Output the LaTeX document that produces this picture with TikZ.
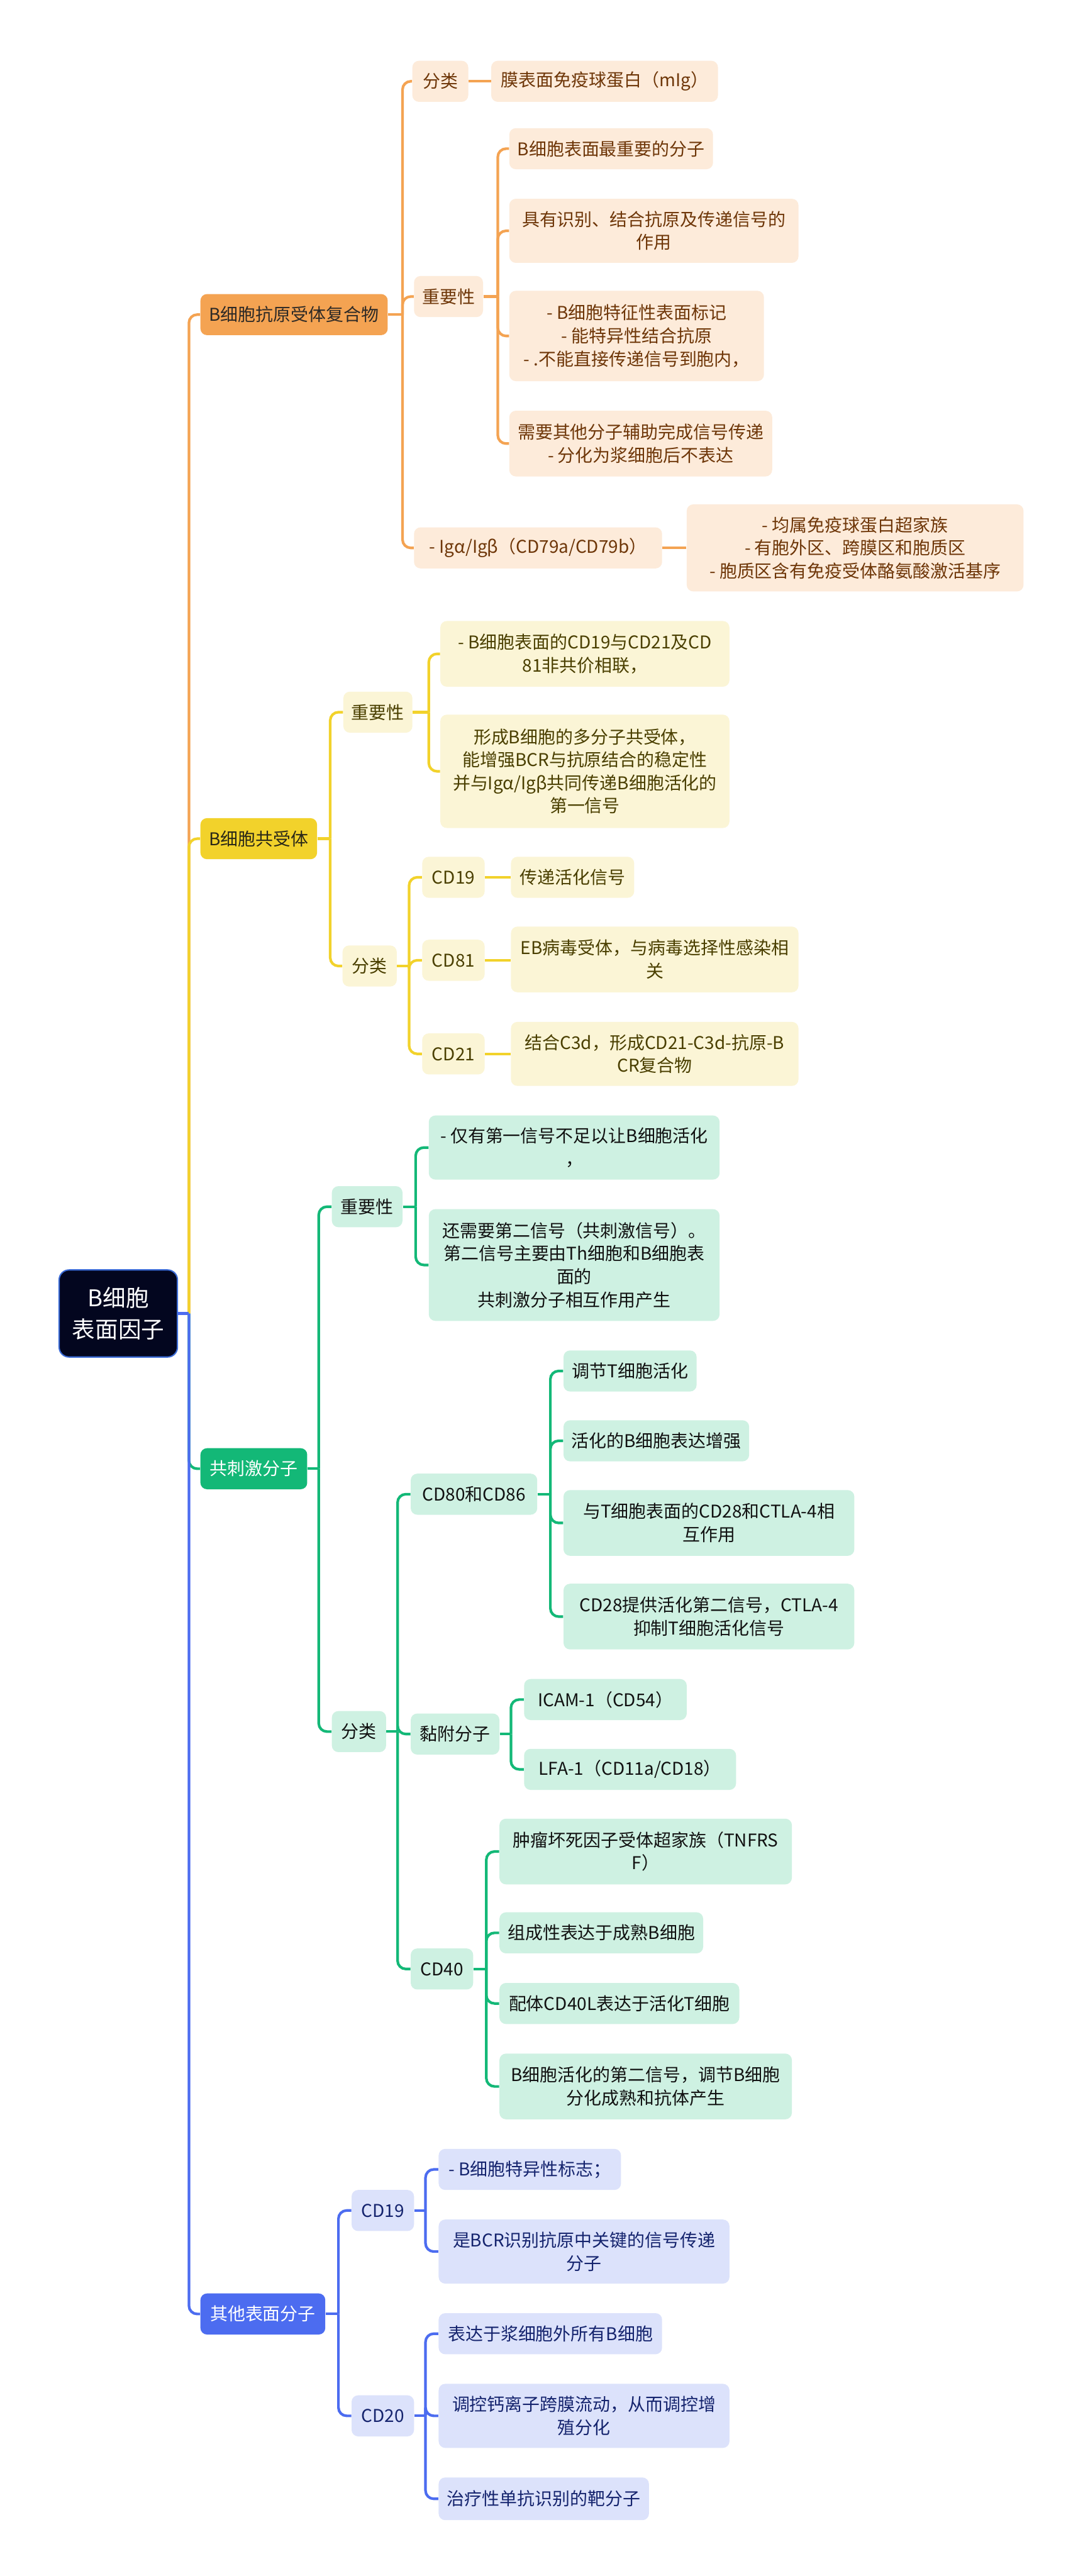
\documentclass[tikz,border=0pt]{standalone}
\usepackage{fontspec}
\setmainfont{Noto Sans CJK SC}
\usetikzlibrary{calc}
\definecolor{rootfill}{HTML}{03061F}
\definecolor{rootdraw}{HTML}{3B6BD6}
\definecolor{oL}{HTML}{F4A352}
\definecolor{oS}{HTML}{FDEBDA}
\definecolor{oT}{HTML}{6E3608}
\definecolor{oLT}{HTML}{2E2A26}
\definecolor{yL}{HTML}{F2D22B}
\definecolor{yS}{HTML}{FBF5D6}
\definecolor{yT}{HTML}{4A3F00}
\definecolor{yLT}{HTML}{2A2818}
\definecolor{gL}{HTML}{13B877}
\definecolor{gS}{HTML}{CEF1E2}
\definecolor{gT}{HTML}{111111}
\definecolor{bL}{HTML}{4C6CF0}
\definecolor{bS}{HTML}{DCE2FB}
\definecolor{bT}{HTML}{15246E}
\tikzset{
  box/.style={rounded corners=4pt, inner sep=0pt, align=center, font=\fontsize{10.7}{14}\selectfont},
  rootbox/.style={rounded corners=6pt, inner sep=0pt, align=center, fill=rootfill, draw=rootdraw, line width=0.8pt, text=white, font=\fontsize{14}{19}\selectfont},
  oone/.style={box, fill=oL, text=oLT},
  osub/.style={box, fill=oS, text=oT},
  yone/.style={box, fill=yL, text=yLT},
  ysub/.style={box, fill=yS, text=yT},
  gone/.style={box, fill=gL, text=white},
  gsub/.style={box, fill=gS, text=gT},
  bone/.style={box, fill=bL, text=white},
  bsub/.style={box, fill=bS, text=bT},
  link/.style={line width=1.6pt, rounded corners=5pt},
  olink/.style={link, draw=oL},
  ylink/.style={link, draw=yL},
  glink/.style={link, draw=gL},
  blink/.style={link, draw=bL}
}
\newcommand\bx[6]{\node[#1, minimum width=#4, minimum height=#5] (#2) at (#3) {#6};}
\begin{document}
\begin{tikzpicture}[x=1pt,y=-1pt]
\useasboundingbox (0,0) rectangle (659,1568);
\fill[white] (0,0) rectangle (659,1568);

% root
\bx{rootbox}{R}{72,799.5}{72}{53}{B细胞\\表面因子}

% ---------- orange branch
\bx{oone}{O1}{179,191.5}{114}{25}{B细胞抗原受体复合物}
\bx{osub}{O2a}{268,49.5}{34}{25}{分类}
\bx{osub}{O3a}{368,49.5}{138}{25}{膜表面免疫球蛋白（mIg）}
\bx{osub}{O2b}{273,180.5}{42}{25}{重要性}
\bx{osub}{O3b1}{372,90.5}{124}{25}{B细胞表面最重要的分子}
\bx{osub}{O3b2}{398,140.5}{176}{39}{具有识别、结合抗原及传递信号的\\作用}
\bx{osub}{O3b3}{387.5,204.5}{155}{55}{- B细胞特征性表面标记\\- 能特异性结合抗原\\- .不能直接传递信号到胞内，}
\bx{osub}{O3b4}{390,270}{160}{40}{需要其他分子辅助完成信号传递\\- 分化为浆细胞后不表达}
\bx{osub}{O2c}{327.5,333.5}{151}{25}{- Igα/Igβ（CD79a/CD79b）}
\bx{osub}{O3c}{520.5,333.5}{205}{53}{- 均属免疫球蛋白超家族\\- 有胞外区、跨膜区和胞质区\\- 胞质区含有免疫受体酪氨酸激活基序}

% ---------- yellow branch
\bx{yone}{Y1}{157.5,510.5}{71}{25}{B细胞共受体}
\bx{ysub}{Y2a}{230,433.5}{42}{25}{重要性}
\bx{ysub}{Y3a1}{356,398}{176}{40}{- B细胞表面的CD19与CD21及CD\\81非共价相联，}
\bx{ysub}{Y3a2}{356,469.5}{176}{69}{形成B细胞的多分子共受体，\\能增强BCR与抗原结合的稳定性\\并与Igα/Igβ共同传递B细胞活化的\\第一信号}
\bx{ysub}{Y2b}{225,588}{33}{25}{分类}
\bx{ysub}{Y3b1}{276,534}{38}{25}{CD19}
\bx{ysub}{Y4b1}{348.5,534}{75}{25}{传递活化信号}
\bx{ysub}{Y3b2}{276,584.5}{38}{25}{CD81}
\bx{ysub}{Y4b2}{398.5,584}{175}{40}{EB病毒受体，与病毒选择性感染相\\关}
\bx{ysub}{Y3b3}{276,641.5}{38}{25}{CD21}
\bx{ysub}{Y4b3}{398.5,641.5}{175}{39}{结合C3d，形成CD21-C3d-抗原-B\\CR复合物}

% ---------- green branch
\bx{gone}{G1}{154.5,894}{65}{25}{共刺激分子}
\bx{gsub}{G2a}{223.5,734.5}{43}{25}{重要性}
\bx{gsub}{G3a1}{349.5,698.5}{177}{39}{- 仅有第一信号不足以让B细胞活化\\，}
\bx{gsub}{G3a2}{349.5,770}{177}{68}{还需要第二信号（共刺激信号）。\\第二信号主要由Th细胞和B细胞表\\面的\\共刺激分子相互作用产生}
\bx{gsub}{G2b}{218.5,1054}{33}{25}{分类}
\bx{gsub}{G3b1}{288.5,909.5}{77}{25}{CD80和CD86}
\bx{gsub}{G4b1a}{383.5,834.5}{81}{25}{调节T细胞活化}
\bx{gsub}{G4b1b}{399.5,877}{113}{25}{活化的B细胞表达增强}
\bx{gsub}{G4b1c}{431.5,927}{177}{40}{与T细胞表面的CD28和CTLA-4相\\互作用}
\bx{gsub}{G4b1d}{431.5,984}{177}{40}{CD28提供活化第二信号，CTLA-4\\抑制T细胞活化信号}
\bx{gsub}{G3b2}{277,1055.5}{54}{25}{黏附分子}
\bx{gsub}{G4b2a}{368.5,1034.5}{99}{25}{ICAM-1（CD54）}
\bx{gsub}{G4b2b}{383.5,1077}{129}{25}{LFA-1（CD11a/CD18）}
\bx{gsub}{G3b3}{269,1198.5}{38}{25}{CD40}
\bx{gsub}{G4b3a}{393,1127}{178}{40}{肿瘤坏死因子受体超家族（TNFRS\\F）}
\bx{gsub}{G4b3b}{366,1176.5}{124}{25}{组成性表达于成熟B细胞}
\bx{gsub}{G4b3c}{377,1219.5}{146}{25}{配体CD40L表达于活化T细胞}
\bx{gsub}{G4b3d}{393,1270}{178}{40}{B细胞活化的第二信号，调节B细胞\\分化成熟和抗体产生}

% ---------- blue branch
\bx{bone}{B1}{160,1408.5}{76}{25}{其他表面分子}
\bx{bsub}{B2a}{233,1345.5}{38}{25}{CD19}
\bx{bsub}{B3a1}{322.5,1320.5}{111}{25}{- B细胞特异性标志；}
\bx{bsub}{B3a2}{355.5,1370.5}{177}{39}{是BCR识别抗原中关键的信号传递\\分子}
\bx{bsub}{B2b}{233,1470.5}{38}{25}{CD20}
\bx{bsub}{B3b1}{335,1420.5}{136}{25}{表达于浆细胞外所有B细胞}
\bx{bsub}{B3b2}{355.5,1470.5}{177}{39}{调控钙离子跨膜流动，从而调控增\\殖分化}
\bx{bsub}{B3b3}{331,1521}{128}{26}{治疗性单抗识别的靶分子}

% ---------- junctions
\coordinate (Rj) at (115,0 |- R.east);
\coordinate (O1j) at (245,0 |- O1.east);
\coordinate (O2bj) at (303,0 |- O2b.east);
\coordinate (Y1j) at (201,0 |- Y1.east);
\coordinate (Y2aj) at (261,0 |- Y2a.east);
\coordinate (Y2bj) at (249,0 |- Y2b.east);
\coordinate (G1j) at (194,0 |- G1.east);
\coordinate (G2aj) at (253,0 |- G2a.east);
\coordinate (G2bj) at (242,0 |- G2b.east);
\coordinate (G3b1j) at (335,0 |- G3b1.east);
\coordinate (G3b2j) at (311,0 |- G3b2.east);
\coordinate (G3b3j) at (296,0 |- G3b3.east);
\coordinate (B1j) at (206,0 |- B1.east);
\coordinate (B2aj) at (259,0 |- B2a.east);
\coordinate (B2bj) at (259,0 |- B2b.east);

% ---------- trunk
\draw[olink] (Rj) |- (O1.west);
\draw[ylink] (Rj) |- (Y1.west);
\draw[glink] (Rj) |- (G1.west);
\draw[blink] (Rj) |- (B1.west);
\draw[blink] (R.east) -- (Rj);

% ---------- orange links
\draw[olink] (O1.east) -- (O1j);
\foreach \c in {O2a,O2b,O2c} \draw[olink] (O1j) |- (\c.west);
\draw[olink] (O2a.east) -- (O3a.west);
\draw[olink] (O2b.east) -- (O2bj);
\foreach \c in {O3b1,O3b2,O3b3,O3b4} \draw[olink] (O2bj) |- (\c.west);
\draw[olink] (O2c.east) -- (O3c.west);

% ---------- yellow links
\draw[ylink] (Y1.east) -- (Y1j);
\foreach \c in {Y2a,Y2b} \draw[ylink] (Y1j) |- (\c.west);
\draw[ylink] (Y2a.east) -- (Y2aj);
\foreach \c in {Y3a1,Y3a2} \draw[ylink] (Y2aj) |- (\c.west);
\draw[ylink] (Y2b.east) -- (Y2bj);
\foreach \c in {Y3b1,Y3b2,Y3b3} \draw[ylink] (Y2bj) |- (\c.west);
\draw[ylink] (Y3b1.east) -- (Y4b1.west);
\draw[ylink] (Y3b2.east) -- (Y3b2.east -| Y4b2.west);
\draw[ylink] (Y3b3.east) -- (Y4b3.west);

% ---------- green links
\draw[glink] (G1.east) -- (G1j);
\foreach \c in {G2a,G2b} \draw[glink] (G1j) |- (\c.west);
\draw[glink] (G2a.east) -- (G2aj);
\foreach \c in {G3a1,G3a2} \draw[glink] (G2aj) |- (\c.west);
\draw[glink] (G2b.east) -- (G2bj);
\foreach \c in {G3b1,G3b2,G3b3} \draw[glink] (G2bj) |- (\c.west);
\draw[glink] (G3b1.east) -- (G3b1j);
\foreach \c in {G4b1a,G4b1b,G4b1c,G4b1d} \draw[glink] (G3b1j) |- (\c.west);
\draw[glink] (G3b2.east) -- (G3b2j);
\foreach \c in {G4b2a,G4b2b} \draw[glink] (G3b2j) |- (\c.west);
\draw[glink] (G3b3.east) -- (G3b3j);
\foreach \c in {G4b3a,G4b3b,G4b3c,G4b3d} \draw[glink] (G3b3j) |- (\c.west);

% ---------- blue links
\draw[blink] (B1.east) -- (B1j);
\foreach \c in {B2a,B2b} \draw[blink] (B1j) |- (\c.west);
\draw[blink] (B2a.east) -- (B2aj);
\foreach \c in {B3a1,B3a2} \draw[blink] (B2aj) |- (\c.west);
\draw[blink] (B2b.east) -- (B2bj);
\foreach \c in {B3b1,B3b2,B3b3} \draw[blink] (B2bj) |- (\c.west);
\end{tikzpicture}
\end{document}
